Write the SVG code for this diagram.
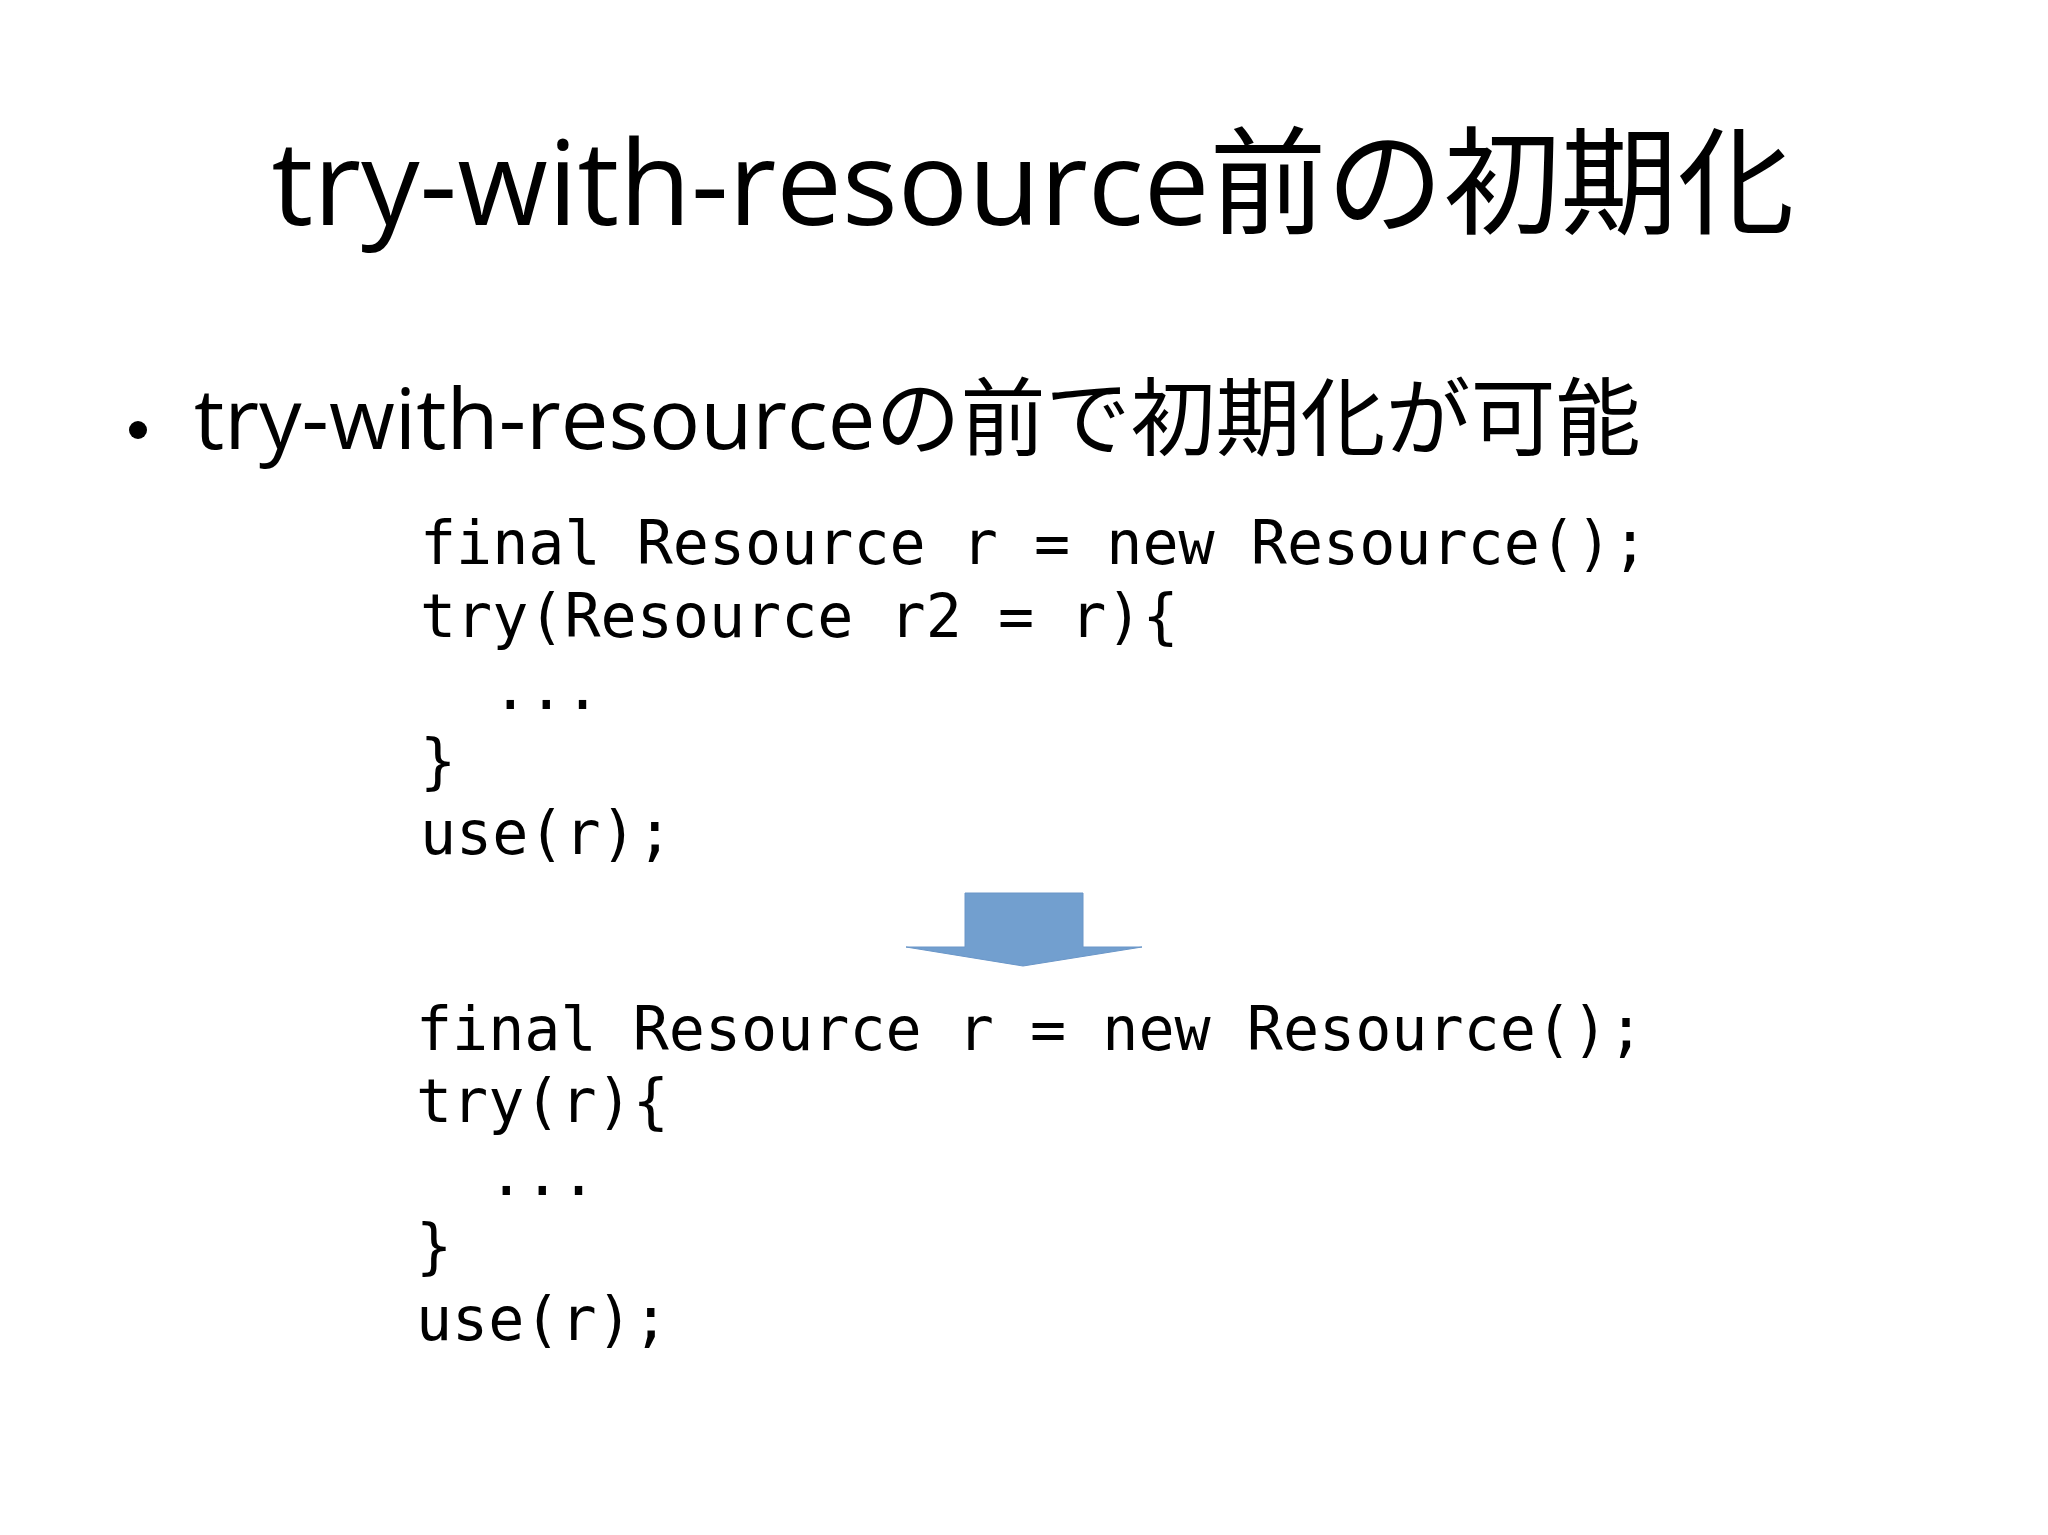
<svg xmlns="http://www.w3.org/2000/svg" width="2048" height="1535" viewBox="0 0 2048 1535">
<style>
.t{font-family:"Open Sans","Noto Sans CJK JP",sans-serif;fill:#000}
.c{font-family:"DejaVu Sans Mono","Liberation Mono",monospace;font-size:60px;fill:#000;white-space:pre}
</style>
<rect width="2048" height="1535" fill="#fff"/>
<g id="title"><text class="t" x="1033" y="225" font-size="117" text-anchor="middle">try-with-resource前の初期化</text></g>
<g id="bullet">
<circle cx="138" cy="430" r="9" fill="#000"/>
<text class="t" x="194" y="449" font-size="85">try-with-resourceの前で初期化が可能</text>
</g>
<g id="code1">
<text class="c" x="420" y="564">final Resource r = new Resource();</text>
<text class="c" x="420" y="637">try(Resource r2 = r){</text>
<text class="c" x="420" y="709">  ...</text>
<text class="c" x="420" y="782">}</text>
<text class="c" x="420" y="854">use(r);</text>
</g>
<g id="arrow">
<path d="M975 901H1093V955H1152L1033 974L916 955H975Z" fill="#729fcf" stroke="#6a96c8" stroke-width="1" transform="translate(-10,-8)"/>
</g>
<g id="code2">
<text class="c" x="416" y="1050">final Resource r = new Resource();</text>
<text class="c" x="416" y="1122">try(r){</text>
<text class="c" x="416" y="1195">  ...</text>
<text class="c" x="416" y="1267">}</text>
<text class="c" x="416" y="1340">use(r);</text>
</g>
<g id="connectors"/>
</svg>
